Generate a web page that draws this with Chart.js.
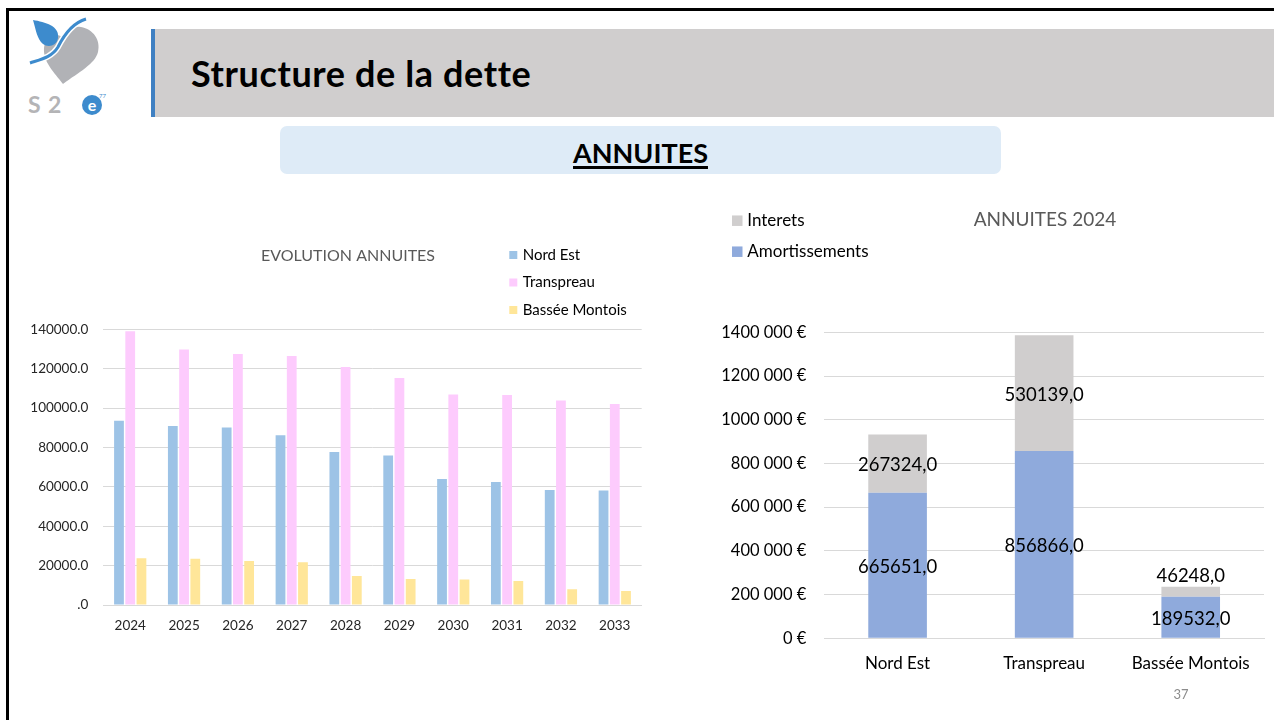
<!DOCTYPE html>
<html><head><meta charset="utf-8">
<script src="https://cdn.jsdelivr.net/npm/chart.js@4.4.1/dist/chart.umd.min.js"></script>
<style>
html,body{margin:0;padding:0;background:#fff;}
body{width:1274px;height:720px;position:relative;overflow:hidden;font-family:Lato,"Open Sans",sans-serif;}
.frameTop{position:absolute;left:6px;top:8px;width:1268px;height:3px;background:#000;}
.frameLeft{position:absolute;left:6px;top:8px;width:3px;height:712px;background:#000;}
.titleBar{position:absolute;left:151px;top:29px;width:1123px;height:88px;background:#D0CECE;border-left:4px solid #3F80C2;box-sizing:border-box;}
.titleText{position:absolute;left:191px;top:29px;height:88px;line-height:88px;font-weight:bold;font-size:36px;letter-spacing:0.6px;color:#000;white-space:nowrap;}
.sub{position:absolute;left:280px;top:126px;width:721px;height:48px;background:#DEEBF7;border-radius:7px;}
.subText{position:absolute;left:280px;top:129px;width:721px;height:48px;line-height:48px;text-align:center;font-weight:bold;font-size:27px;color:#000;text-decoration:underline;text-decoration-thickness:3px;text-underline-offset:3px;}
.pageNum{position:absolute;left:1160px;top:686px;width:42px;text-align:center;font-size:13px;color:#8C8C8C;}
#leftChart{position:absolute;left:0;top:230px;}
#rightChart{position:absolute;left:700px;top:190px;}
</style>
</head>
<body>
<div class="frameTop"></div>
<div class="frameLeft"></div>
<svg style="position:absolute;left:24px;top:14px" width="90" height="106" viewBox="24 14 90 106">
  <path d="M63,84 C54,72 43,62 44,48 C45,37 55,32 62,37 C65,29 73,26 81,27 C93,29 101,40 98,52 C95,64 79,72 63,84 Z" fill="#B1B2B6"/>
  <path d="M33,20 C45,22 60,26 58,38 C57,46 48,48 43,44 C37,39 36,30 33,20 Z" fill="#3D8BCD"/>
  <path d="M30,63 C42,59 52,57 58,47 C64,35 72,23 86,19" fill="none" stroke="#fff" stroke-width="6"/>
  <path d="M30,63 C42,59 52,57 58,47 C64,35 72,23 86,19" fill="none" stroke="#3D8BCD" stroke-width="3"/>
  <text x="28" y="113" font-family="Lato, sans-serif" font-weight="bold" font-size="23" fill="#B4B4B6">S</text>
  <text x="48" y="113" font-family="Lato, sans-serif" font-weight="bold" font-size="23" fill="#B4B4B6">2</text>
  <circle cx="92" cy="105" r="10" fill="#3D8BCD"/>
  <text x="92" y="110.5" text-anchor="middle" font-family="Lato, sans-serif" font-weight="bold" font-size="16" fill="#fff">e</text>
  <text x="99" y="98" font-family="Lato, sans-serif" font-size="6" fill="#3D8BCD">77</text>
</svg>
<div class="titleBar"></div>
<div class="titleText">Structure de la dette</div>
<div class="sub"></div>
<div class="subText">ANNUITES</div>
<canvas id="leftChart" width="660" height="430" style="width:660px;height:430px"></canvas>
<canvas id="rightChart" width="574" height="510" style="width:574px;height:510px"></canvas>
<div class="pageNum">37</div>
<script>
// ---- Left chart data: EVOLUTION ANNUITES ----
const years = ['2024','2025','2026','2027','2028','2029','2030','2031','2032','2033'];
const nordEst = [93500, 90900, 90100, 86200, 77700, 75900, 64000, 62500, 58400, 58100];
const transpreau = [139000, 129700, 127500, 126500, 120900, 115300, 106900, 106700, 103800, 102100];
const basseeMontois = [23700, 23500, 22400, 21700, 14700, 13200, 13000, 12200, 8000, 7100];
const leftTickLabels = ['.0','20000.0','40000.0','60000.0','80000.0','100000.0','120000.0','140000.0'];

// ---- Right chart data: ANNUITES 2024 ----
const entities = ['Nord Est','Transpreau','Bassée Montois'];
const amortissements = [665651, 856866, 189532];
const interets = [267324, 530139, 46248];
const rightTickLabels = ['0 €','200 000 €','400 000 €','600 000 €','800 000 €','1000 000 €','1200 000 €','1400 000 €'];

const FONT = 'Lato, "Open Sans", sans-serif';

const decorPlugin = {
  id: 'decor',
  afterDraw(chart, args, opts) {
    const ctx = chart.ctx;
    ctx.save();
    if (opts.title) {
      const T = opts.title;
      ctx.font = T.font; ctx.fillStyle = T.color;
      ctx.textAlign = 'center'; ctx.textBaseline = 'middle';
      ctx.fillText(T.text, T.x, T.y);
    }
    if (opts.legend) {
      const L = opts.legend;
      ctx.font = L.font; ctx.textAlign = 'left'; ctx.textBaseline = 'middle';
      L.order.forEach((di, k) => {
        const ds = chart.data.datasets[di];
        const y = L.y0 + k * L.dy;
        ctx.fillStyle = ds.backgroundColor;
        ctx.fillRect(L.x, y - L.box / 2, L.box, L.box);
        ctx.fillStyle = L.color;
        ctx.fillText(ds.label, L.textX, y);
      });
    }
    ctx.restore();
  }
};

const valueLabels = {
  id: 'valueLabels',
  afterDatasetsDraw(chart, args, opts) {
    if (!opts || !opts.enabled) return;
    const ctx = chart.ctx;
    ctx.save();
    ctx.font = opts.font; ctx.fillStyle = opts.color;
    ctx.textAlign = 'center'; ctx.textBaseline = 'middle';
    chart.data.datasets.forEach((ds, i) => {
      const meta = chart.getDatasetMeta(i);
      meta.data.forEach((bar, j) => {
        const v = ds.data[j];
        const text = v.toFixed(1).replace('.', ',');
        const top = Math.min(bar.y, bar.base), bottom = Math.max(bar.y, bar.base);
        let y = (top + bottom) / 2 + 1.5;
        if (bottom - top < opts.minHeight) y = top - opts.aboveOffset;
        ctx.fillText(text, bar.x, y);
      });
    });
    ctx.restore();
  }
};

new Chart(document.getElementById('leftChart'), {
  type: 'bar',
  data: {
    labels: years,
    datasets: [
      { label: 'Nord Est', data: nordEst, backgroundColor: '#9DC3E6' },
      { label: 'Transpreau', data: transpreau, backgroundColor: '#FDCBFD' },
      { label: 'Bassée Montois', data: basseeMontois, backgroundColor: '#FFE699' }
    ]
  },
  plugins: [decorPlugin],
  options: {
    responsive: false,
    animation: false,
    events: [],
    layout: { padding: { left: 0, right: 18.3, top: 99.3, bottom: 0 } },
    datasets: { bar: { categoryPercentage: 0.626, barPercentage: 0.87 } },
    scales: {
      x: {
        grid: { display: false, drawTicks: false },
        border: { display: true, color: '#D9D9D9', width: 1 },
        ticks: { color: '#262626', font: { family: FONT, size: 13.5 }, padding: 13 },
        afterFit: (s) => { s.height = 55; }
      },
      y: {
        min: 0, max: 140000,
        grid: { color: '#D9D9D9', drawTicks: false, lineWidth: 1 },
        border: { display: false },
        ticks: {
          stepSize: 20000,
          color: '#262626', font: { family: FONT, size: 13.5 }, padding: 15,
          callback: (v, i) => leftTickLabels[i]
        },
        afterFit: (s) => { s.width = 103.3; }
      }
    },
    plugins: {
      legend: { display: false },
      tooltip: { enabled: false },
      decor: {
        title: { text: 'EVOLUTION ANNUITES', x: 348, y: 26, font: '16px ' + FONT, color: '#595959' },
        legend: { order: [0, 1, 2], x: 509.3, y0: 25, dy: 27.5, box: 8, textX: 522.7, font: '15px ' + FONT, color: '#000' }
      }
    }
  }
});

new Chart(document.getElementById('rightChart'), {
  type: 'bar',
  data: {
    labels: entities,
    datasets: [
      { label: 'Amortissements', data: amortissements, backgroundColor: '#8FAADC' },
      { label: 'Interets', data: interets, backgroundColor: '#D0CECE' }
    ]
  },
  plugins: [decorPlugin, valueLabels],
  options: {
    responsive: false,
    animation: false,
    events: [],
    layout: { padding: { left: 0, right: 10, top: 142.3, bottom: 0 } },
    datasets: { bar: { categoryPercentage: 1, barPercentage: 0.4 } },
    scales: {
      x: {
        stacked: true,
        grid: { display: false, drawTicks: false },
        border: { display: true, color: '#D9D9D9', width: 1 },
        ticks: { color: '#000', font: { family: FONT, size: 17 }, padding: 15 },
        afterFit: (s) => { s.height = 61.7; }
      },
      y: {
        stacked: true,
        min: 0, max: 1400000,
        grid: { color: '#D9D9D9', drawTicks: false, lineWidth: 1 },
        border: { display: false },
        ticks: {
          stepSize: 200000,
          color: '#000', font: { family: FONT, size: 16.5 }, padding: 18,
          callback: (v, i) => rightTickLabels[i]
        },
        afterFit: (s) => { s.width = 124.3; }
      }
    },
    plugins: {
      legend: { display: false },
      tooltip: { enabled: false },
      valueLabels: { enabled: true, font: '18.5px ' + FONT, color: '#000', minHeight: 20, aboveOffset: 11 },
      decor: {
        title: { text: 'ANNUITES 2024', x: 345, y: 30, font: '19px ' + FONT, color: '#595959' },
        legend: { order: [1, 0], x: 32, y0: 30.7, dy: 31, box: 10.5, textX: 47.3, font: '17px ' + FONT, color: '#000' }
      }
    }
  }
});
</script>
</body></html>
